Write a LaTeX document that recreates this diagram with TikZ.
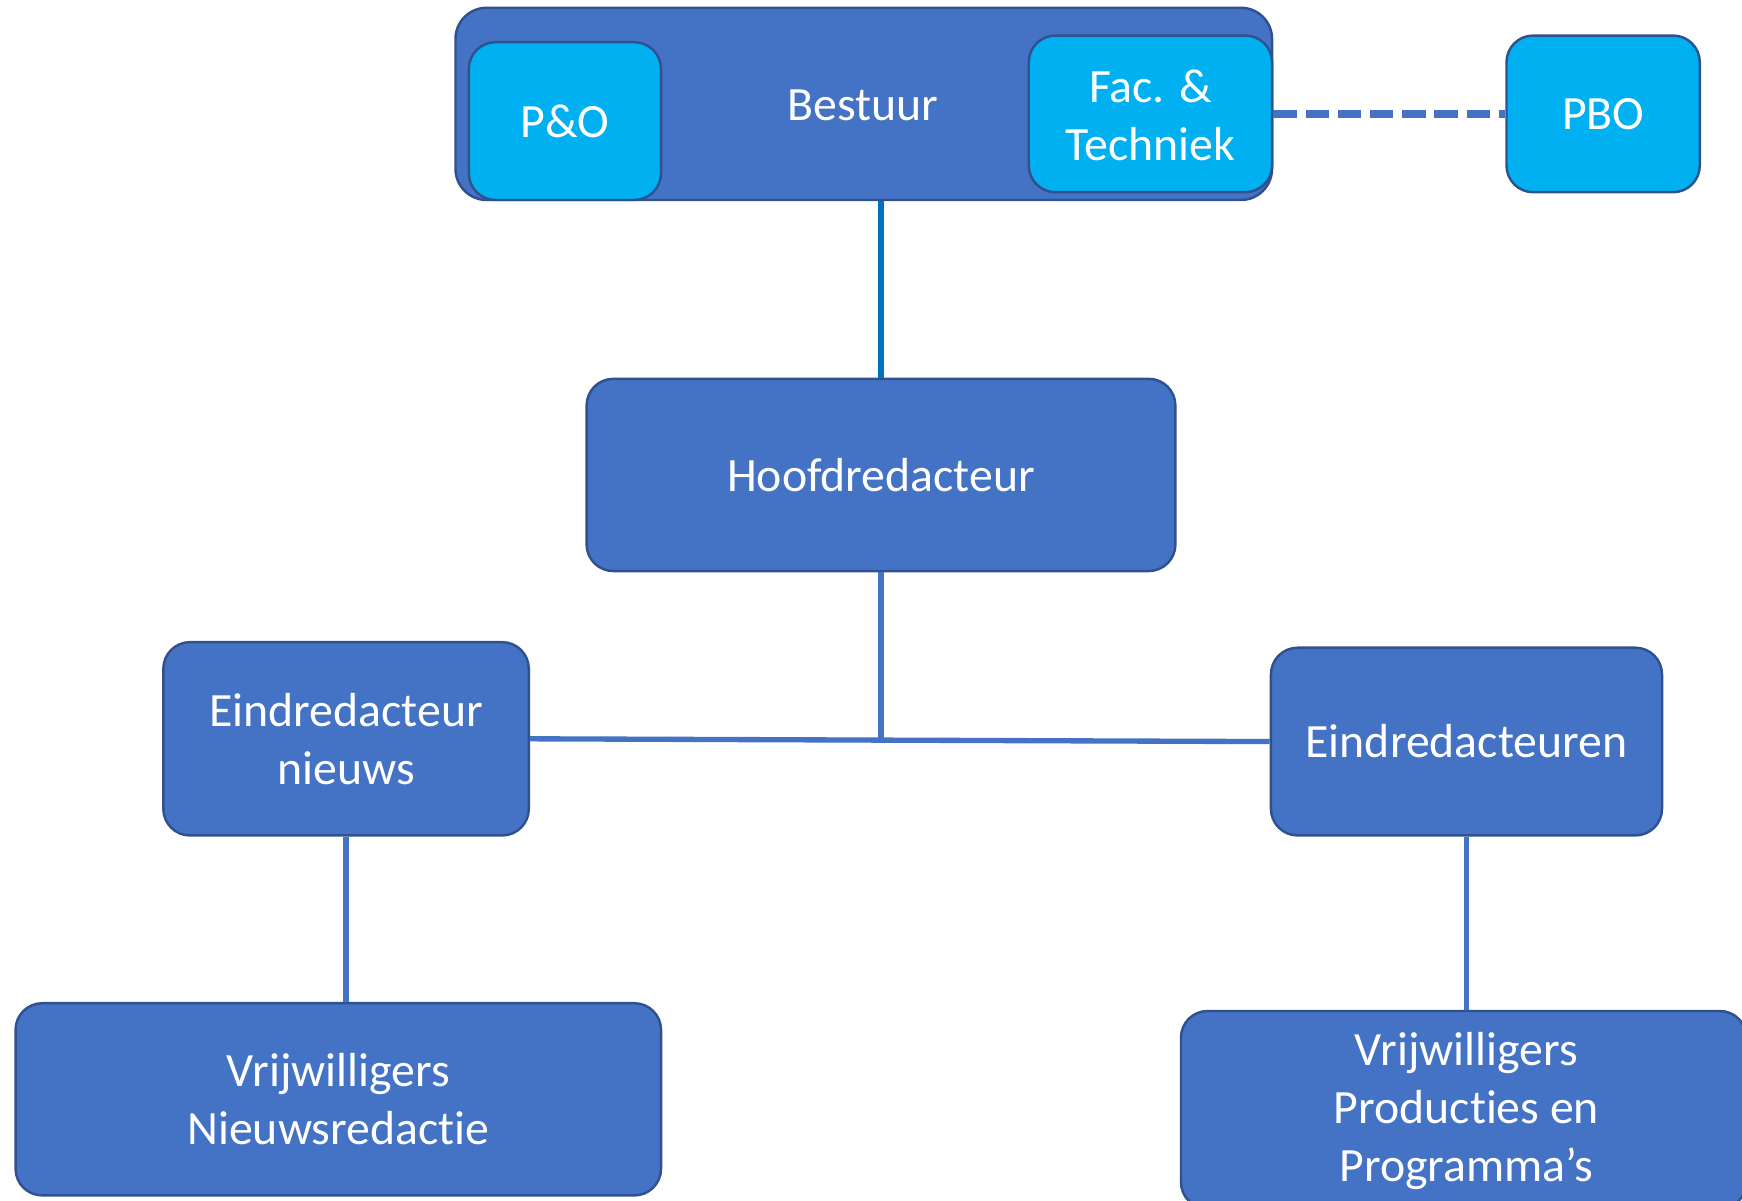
\documentclass[tikz,border=0pt]{standalone}
\usepackage{fontspec}
\setmainfont{Carlito}[Ligatures=CommonOff]
\definecolor{mainblue}{HTML}{4472C4}
\definecolor{edgeblue}{HTML}{2F528F}
\definecolor{lightblue}{HTML}{00B0F0}
\definecolor{darkline}{HTML}{0070C0}
\tikzset{
  box/.style={draw=edgeblue, line width=1.1pt, fill=mainblue, rounded corners=12pt,
    inner sep=0pt, text=white, align=center, font=\fontsize{21.5}{26}\selectfont},
  litebox/.style={box, fill=lightblue},
  txt/.style={text=white, align=center, inner sep=0pt, font=\fontsize{21.5}{26}\selectfont},
  conn/.style={draw=mainblue, line width=2.4pt},
}
\begin{document}
\begin{tikzpicture}[x=0.5pt, y=-0.5pt]
\useasboundingbox (0,0) rectangle (1568,1081);
\begin{scope}
\clip (0,0) rectangle (1568,1081);
% top
\node[box, rounded corners=14pt, minimum width=367.5pt, minimum height=86.5pt] (bestuur) at (777.5,93.5) {};
\node[txt] (bestuurtxt) at (777,95) {Bestuur};
\node[litebox, minimum width=86.5pt, minimum height=71pt] (po) at (508.5,109) {P\&O};
\node[litebox, minimum width=109.5pt, minimum height=70.5pt] (fac) at (1035.5,102.5) {};
\node[txt] (factxt) at (1035.5,104) {Fac. \&\\Techniek};
\node[litebox, minimum width=87pt, minimum height=70.5pt] (pbo) at (1443,102.5) {PBO};
% middle
\node[box, minimum width=265pt, minimum height=86.5pt] (hoofd) at (793,427.5) {Hoofdredacteur};
\node[box, minimum width=164.5pt, minimum height=87pt] (ein1) at (311.5,665) {Eindredacteur\\nieuws};
\node[box, minimum width=176pt, minimum height=84.5pt] (ein2) at (1320,667.5) {Eindredacteuren};
% bottom
\node[box, minimum width=290.5pt, minimum height=86.5pt] (vr1) at (304.5,989.5) {Vrijwilligers\\Nieuwsredactie};
\node[box, minimum width=254.5pt, minimum height=89pt] (vr2) at (1317.5,999) {};
\node[txt] (vr2txt) at (1320,1000) {Vrijwilligers\\Producties en\\Programma’s};
% connectors
\draw[conn, line width=3.4pt, dash pattern=on 10.5pt off 4pt] (fac.east) -- (pbo.west);
\draw[conn, draw=darkline] (hoofd.north |- bestuur.south) -- (hoofd.north);
\coordinate (junc) at (793,665);
\draw[conn] (hoofd.south) -- (junc);
\draw[conn] (ein1.east) -- (ein2.west);
\draw[conn] (ein1.south) -- (ein1.south |- vr1.north);
\draw[conn] (ein2.south) -- (ein2.south |- vr2.north);
\end{scope}
\end{tikzpicture}
\end{document}
